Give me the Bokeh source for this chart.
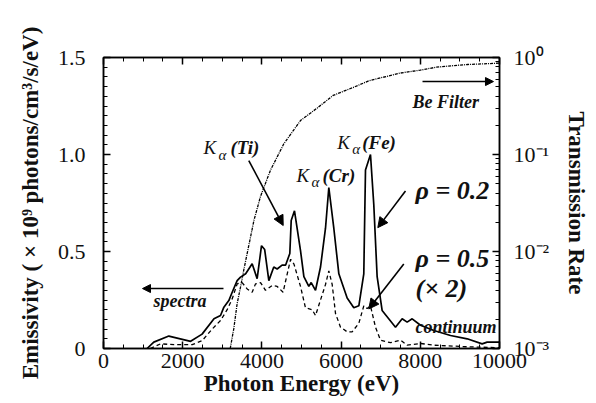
from bokeh.plotting import figure
from bokeh.models import (Range1d, LogScale, LinearAxis, LogAxis, LogTicker, SingleIntervalTicker,
                          FixedTicker, CustomJSTickFormatter, Arrow, NormalHead)
from bokeh.core.properties import value
from bokeh.embed import file_html
from bokeh.resources import INLINE

# ---- data ----
energy_rho02 = [1100, 1270, 1650, 2200, 2490, 2790, 2955, 3040, 3165, 3250, 3375, 3460, 3590, 3754, 3880,
                3990, 4070, 4175, 4300, 4385, 4510, 4600, 4705, 4740, 4823, 4975, 5060, 5185, 5245, 5354,
                5480, 5606, 5690, 5816, 5943, 6153, 6321, 6448, 6573, 6616, 6742, 6826, 6910, 7036, 7374,
                7542, 7668, 7795, 8005, 8342, 8763, 9184, 9562, 9688, 10000]
emis_rho02 = [0, 0.033, 0.064, 0.037, 0.074, 0.153, 0.17, 0.213, 0.247, 0.29, 0.35, 0.368, 0.385, 0.437, 0.36,
              0.53, 0.51, 0.35, 0.42, 0.41, 0.43, 0.43, 0.49, 0.66, 0.71, 0.505, 0.37, 0.32, 0.34, 0.30,
              0.42, 0.62, 0.83, 0.62, 0.385, 0.26, 0.21, 0.22, 0.385, 0.92, 1.00, 0.74, 0.37, 0.196, 0.11,
              0.153, 0.136, 0.153, 0.12, 0.093, 0.067, 0.05, 0.024, 0.033, 0.033]

energy_rho05 = [1180, 1440, 1780, 2110, 2240, 2490, 2744, 2955, 3123, 3250, 3375, 3500, 3628, 3754, 3838,
                3965, 4090, 4260, 4385, 4535, 4640, 4725, 4810, 4975, 5100, 5270, 5354, 5480, 5606, 5690,
                5775, 5859, 5985, 6153, 6279, 6448, 6573, 6658, 6742, 6868, 6994, 7247, 7500, 7668, 8005,
                8342, 9184, 10000]
emis_rho05 = [0, 0.024, 0.02, 0.02, 0.02, 0.04, 0.10, 0.144, 0.2, 0.256, 0.333, 0.34, 0.307, 0.29, 0.333,
              0.34, 0.30, 0.325, 0.32, 0.29, 0.385, 0.46, 0.435, 0.32, 0.21, 0.20, 0.17, 0.25, 0.33, 0.40,
              0.33, 0.18, 0.11, 0.086, 0.086, 0.13, 0.22, 0.206, 0.22, 0.11, 0.043, 0.03, 0.043, 0.017, 0.026,
              0.017, 0.009, 0.004]

energy_be = [3200, 3290, 3375, 3460, 3544, 3800, 3965, 4217, 4554, 4975, 5400, 5800, 6300, 6700, 7200,
             7500, 8000, 8400, 8800, 9200, 10000]
trans_be = [0.001, 0.0016, 0.0029, 0.0043, 0.0065, 0.021, 0.037, 0.069, 0.129, 0.224, 0.302, 0.407, 0.49,
            0.575, 0.646, 0.692, 0.741, 0.794, 0.822, 0.847, 0.875]

x_ticks = [0, 2000, 4000, 6000, 8000, 10000]
y_ticks = [0, 0.5, 1.0, 1.5]

SERIF = "'Liberation Serif', 'Times New Roman', serif"

p = figure(frame_width=396, frame_height=291, output_backend="svg", toolbar_location=None,
           x_range=Range1d(0, 10000), y_range=Range1d(0, 1.5),
           min_border_left=103, min_border_top=57, min_border_right=5, min_border_bottom=5,
           x_axis_label="Photon Energy (eV)",
           y_axis_label="Emissivity ( \u00d7 10\u2079 photons/cm\u00b3/s/eV)")
p.extra_y_ranges = {"t": Range1d(1e-3, 1)}
p.extra_y_scales = {"t": LogScale()}
p.xgrid.visible = False
p.ygrid.visible = False
p.outline_line_color = "black"
p.outline_line_width = 1.5
p.background_fill_color = "white"
p.border_fill_color = "white"

def style_axis(ax):
    ax.axis_line_color = "black"
    ax.axis_line_width = 1.5
    ax.major_tick_in = 7
    ax.major_tick_out = 0
    ax.minor_tick_in = 4
    ax.minor_tick_out = 0
    ax.major_tick_line_color = "black"
    ax.minor_tick_line_color = "black"
    ax.major_tick_line_width = 1.5
    ax.major_label_text_font = SERIF
    ax.major_label_text_font_size = "22px"
    ax.major_label_text_color = "#111111"
    ax.axis_label_text_font = SERIF
    ax.axis_label_text_font_style = "bold"
    ax.axis_label_text_font_size = "23px"
    ax.axis_label_text_color = "#111111"

xa = p.xaxis[0]
xa.ticker = SingleIntervalTicker(interval=2000, num_minor_ticks=4)
style_axis(xa)
xa.major_label_standoff = 5
xa.axis_label_standoff = 0

ya = p.yaxis[0]
ya.ticker = FixedTicker(ticks=y_ticks, minor_ticks=[i * 0.05 for i in range(31)])
ya.major_label_overrides = {0: "0", 0.5: "0.5", 1: "1.0", 1.5: "1.5"}
style_axis(ya)
ya.major_label_standoff = 18
ya.axis_label_standoff = 12

top = LinearAxis(ticker=SingleIntervalTicker(interval=2000, num_minor_ticks=4),
                 formatter=CustomJSTickFormatter(code="return ''"))
style_axis(top)
p.add_layout(top, "above")

sup_code = """
const e = Math.round(Math.log10(tick));
const sup = {'-':'\\u207b','0':'\\u2070','1':'\\u00b9','2':'\\u00b2','3':'\\u00b3','4':'\\u2074','5':'\\u2075'};
return '10' + String(e).split('').map(c => sup[c]).join('');
"""
ra = LogAxis(y_range_name="t", ticker=LogTicker(num_minor_ticks=10),
             formatter=CustomJSTickFormatter(code=sup_code), axis_label="Transmission Rate")
style_axis(ra)
ra.major_label_standoff = 14
ra.axis_label_standoff = 12
p.add_layout(ra, "right")

# ---- curves ----
p.line(energy_rho02, emis_rho02, line_color="black", line_width=1.7)
p.line(energy_rho05, emis_rho05, line_color="black", line_width=1.3, line_dash="4 3")
p.line(energy_be, trans_be, line_color="black", line_width=1.3, line_dash="3 1 1 1", y_range_name="t")

# ---- annotations ----
def arrow(x0, y0, x1, y1, size=10):
    p.add_layout(Arrow(x_start=x0, y_start=y0, x_end=x1, y_end=y1, line_width=1.6, line_color="black",
                       end=NormalHead(size=size, fill_color="black", line_color="black", line_width=1)))

arrow(3669, 0.969, 4538, 0.634)
arrow(7626, 0.812, 6927, 0.623)
arrow(7583, 0.436, 6699, 0.204)
arrow(3030, 0.309, 985, 0.309, size=8)
arrow(8056, 1.376, 9848, 1.376, size=8)

def txt(x, y, s, size, style="bold italic", xo=0, yo=0):
    p.text(x=[x], y=[y], text=[s], text_font=value(SERIF), text_font_style=style,
           text_font_size=size, text_align="left", text_baseline="alphabetic",
           x_offset=xo, y_offset=yo, text_color="#111111")

for (kx, ky, el, off) in [(2525, 1.036, "(Ti)", 27), (4874, 0.892, "(Cr)", 26), (5901, 1.063, "(Fe)", 25)]:
    txt(kx, ky, "K", "19px", "italic")
    txt(kx, ky, "\u03b1", "15px", "italic", xo=15, yo=7)
    txt(kx, ky, el, "19px", "bold italic", xo=off)

txt(7879, 0.814, "\u03c1 = 0.2", "26px")
txt(7879, 0.464, "\u03c1 = 0.5", "26px")
txt(7879, 0.309, "(\u00d7 2)", "26px")
txt(1263, 0.247, "spectra", "18px")
txt(7803, 1.273, "Be Filter", "18px")
txt(7879, 0.113, "continuum", "18px")

open("out.html", "w").write(file_html(p, INLINE))
